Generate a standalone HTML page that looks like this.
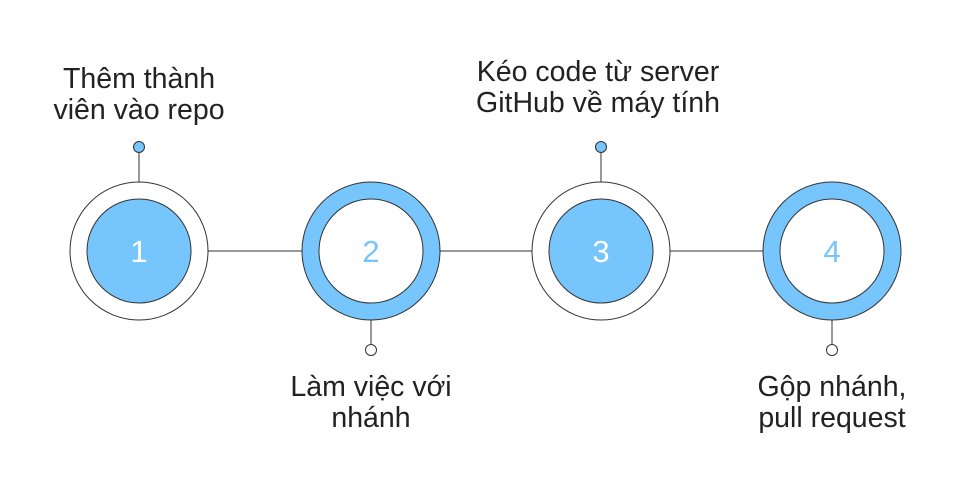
<!DOCTYPE html>
<html><head><meta charset="utf-8"><style>body{margin:0;background:#fff}</style></head><body>
<svg width="977" height="475" viewBox="0 0 977 475" xmlns="http://www.w3.org/2000/svg" font-family="Liberation Sans, sans-serif">
<g stroke="#333" stroke-width="1">
<line x1="208" y1="251" x2="302" y2="251"/>
<line x1="440" y1="251" x2="532" y2="251"/>
<line x1="670" y1="251" x2="763" y2="251"/>
<line x1="139" y1="152" x2="139" y2="182"/>
<line x1="601" y1="152" x2="601" y2="182"/>
<line x1="371" y1="320" x2="371" y2="345"/>
<line x1="832" y1="320" x2="832" y2="345"/>
<circle cx="139" cy="147" r="5.5" fill="#76c5fc"/>
<circle cx="601" cy="147" r="5.5" fill="#76c5fc"/>
<circle cx="371" cy="350" r="5.5" fill="#fff"/>
<circle cx="832" cy="350" r="5.5" fill="#fff"/>
<circle cx="139" cy="251" r="69" fill="#fff"/>
<circle cx="139" cy="251" r="52" fill="#76c5fc"/>
<circle cx="371" cy="251" r="69" fill="#76c5fc"/>
<circle cx="371" cy="251" r="52" fill="#fff"/>
<circle cx="601" cy="251" r="69" fill="#fff"/>
<circle cx="601" cy="251" r="52" fill="#76c5fc"/>
<circle cx="832" cy="251" r="69" fill="#76c5fc"/>
<circle cx="832" cy="251" r="52" fill="#fff"/>
</g>
<g font-size="31" text-anchor="middle">
<text x="139" y="262" fill="#fff">1</text>
<text x="371" y="262" fill="#76c5fc">2</text>
<text x="601" y="262" fill="#fff">3</text>
<text x="832" y="262" fill="#76c5fc">4</text>
</g>
<g font-size="28.5" text-anchor="middle" fill="#222">
<text x="139" y="88">Thêm thành</text>
<text x="139" y="119">viên vào repo</text>
<text x="598" y="81">Kéo code từ server</text>
<text x="598" y="112">GitHub về máy tính</text>
<text x="371" y="396">Làm việc với</text>
<text x="371" y="427">nhánh</text>
<text x="832" y="396">Gộp nhánh,</text>
<text x="832" y="427">pull request</text>
</g>
</svg>
</body></html>
